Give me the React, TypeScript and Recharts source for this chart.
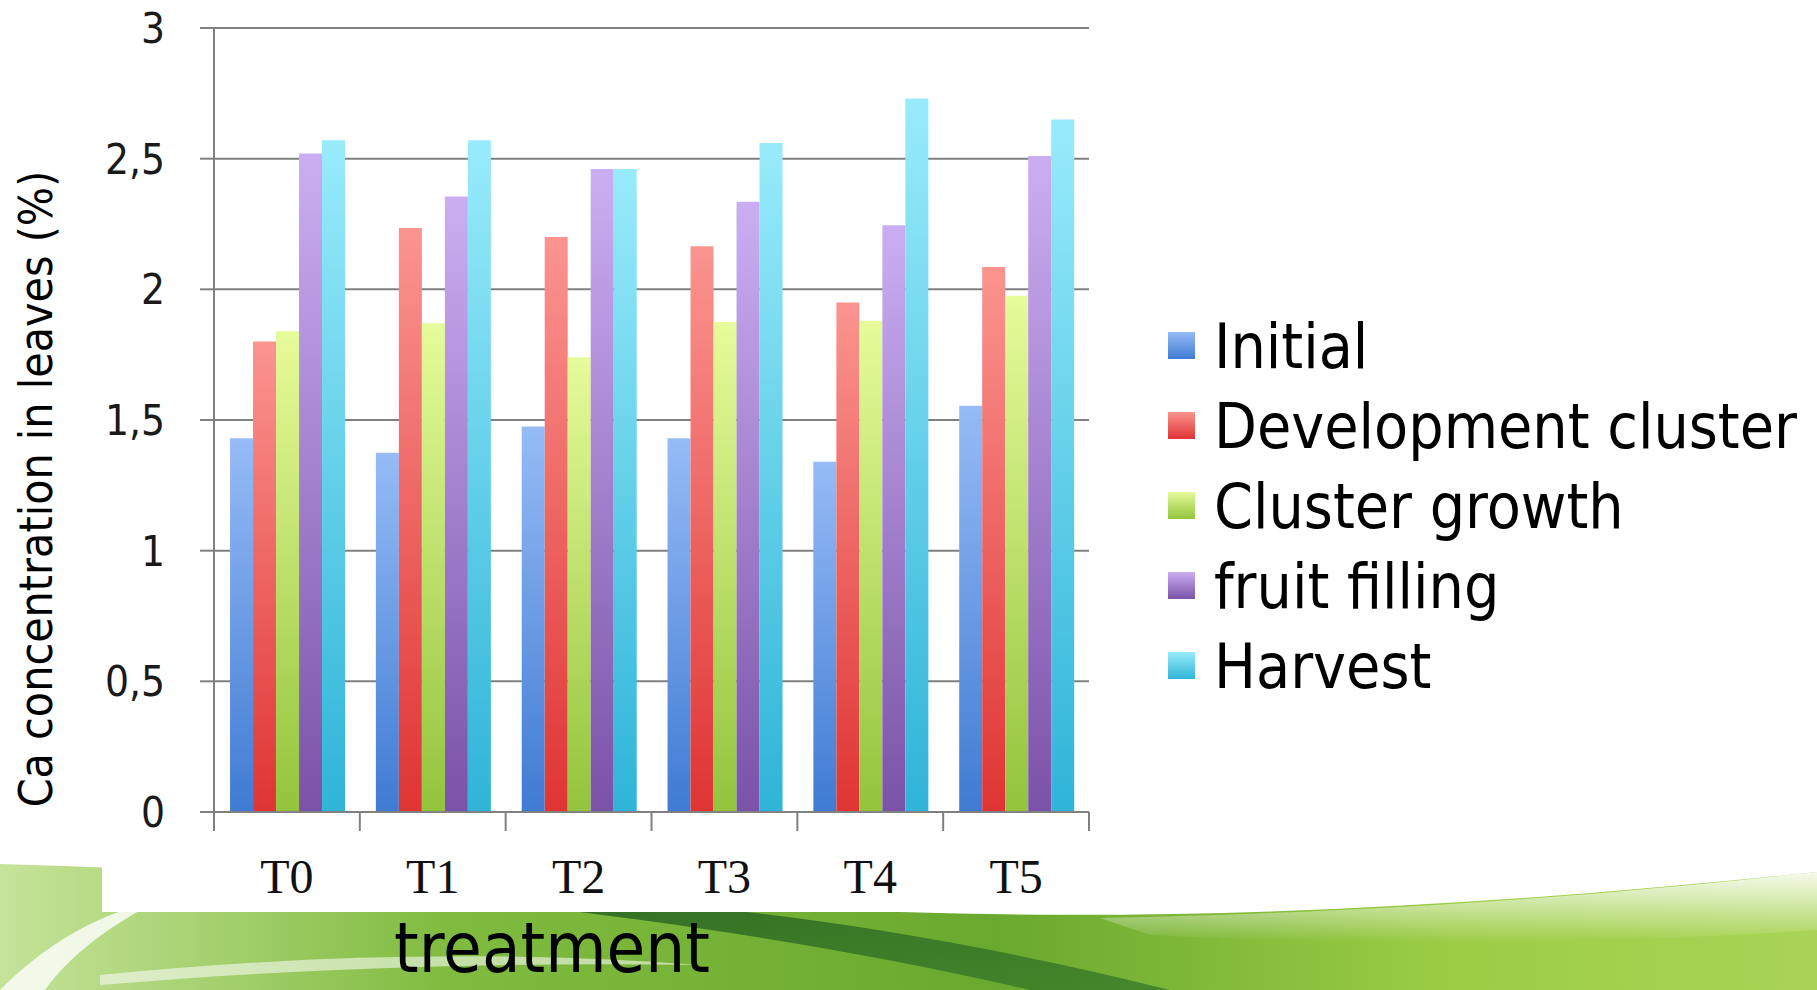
import React from "react";
import {
  BarChart,
  Bar,
  XAxis,
  YAxis,
  CartesianGrid,
  Legend,
} from "recharts";

// categories and series values
const categories = ["T0", "T1", "T2", "T3", "T4", "T5"];
const seriesNames = [
  "Initial",
  "Development cluster",
  "Cluster growth",
  "fruit filling",
  "Harvest",
];
const initial = [1.43, 1.375, 1.475, 1.43, 1.34, 1.555];
const developmentCluster = [1.8, 2.235, 2.2, 2.165, 1.95, 2.085];
const clusterGrowth = [1.84, 1.87, 1.74, 1.875, 1.88, 1.975];
const fruitFilling = [2.52, 2.355, 2.46, 2.335, 2.245, 2.51];
const harvest = [2.57, 2.57, 2.46, 2.56, 2.73, 2.65];
const yTicks = [0, 0.5, 1, 1.5, 2, 2.5, 3];

const keys = ["initial", "development", "growth", "fruit", "harvest"];
const colors = [
  { top: "#96bbf6", bottom: "#3f7bd3" },
  { top: "#fb948f", bottom: "#df3434" },
  { top: "#e6fb9a", bottom: "#93c43c" },
  { top: "#cbaef2", bottom: "#7a52a8" },
  { top: "#98ebfb", bottom: "#2fb4d8" },
];

const data = categories.map((name, i) => ({
  name,
  initial: initial[i],
  development: developmentCluster[i],
  growth: clusterGrowth[i],
  fruit: fruitFilling[i],
  harvest: harvest[i],
}));

const condensed = "'DejaVu Sans Condensed', 'DejaVu Sans', sans-serif";
const gray = "#808080";

// x ticks sit on the category boundaries, not the centres
const XTick = (props: any) => {
  const { x, y, payload, index } = props;
  const half = payload && payload.offset ? payload.offset : 72.9;
  const axisY = y - 19;
  return (
    <g>
      {index === 0 && (
        <line x1={x - half} x2={x - half} y1={axisY} y2={y} stroke={gray} strokeWidth={2} />
      )}
      <line x1={x + half} x2={x + half} y1={axisY} y2={y} stroke={gray} strokeWidth={2} />
      <text
        x={x}
        y={y + 62}
        textAnchor="middle"
        fontFamily="'Liberation Serif', 'Times New Roman', serif"
        fontSize={48}
        fill="#111"
      >
        {payload.value}
      </text>
    </g>
  );
};

const LegendBox = () => (
  <svg width={650} height={440}>
    <defs>
      {colors.map((c, i) => (
        <linearGradient key={i} id={`lg${i}`} x1="0" y1="0" x2="0" y2="1">
          <stop offset="0%" stopColor={c.top} />
          <stop offset="100%" stopColor={c.bottom} />
        </linearGradient>
      ))}
    </defs>
    {seriesNames.map((name, i) => (
      <g key={name}>
        <rect x={8} y={78 + i * 80 - 36} width={27} height={27} fill={`url(#lg${i})`} />
        <text
          x={54}
          y={78 + i * 80}
          fontFamily={condensed}
          fontSize={62}
          fill="#000"
        >
          {name}
        </text>
      </g>
    ))}
  </svg>
);

const Background = () => (
  <svg width={1817} height={990} style={{ position: "absolute", left: 0, top: 0 }}>
    <defs>
      <linearGradient id="swooshBase" x1="0" y1="0" x2="1" y2="0">
        <stop offset="0%" stopColor="#c6e39a" />
        <stop offset="25%" stopColor="#7fbb3e" />
        <stop offset="55%" stopColor="#6aa92f" />
        <stop offset="80%" stopColor="#9ccd45" />
        <stop offset="100%" stopColor="#a9d456" />
      </linearGradient>
      <linearGradient id="swooshFade" x1="0" y1="0" x2="0" y2="1">
        <stop offset="0%" stopColor="#ffffff" stopOpacity={0.9} />
        <stop offset="100%" stopColor="#ffffff" stopOpacity={0} />
      </linearGradient>
      <linearGradient id="darkBand" x1="0" y1="0" x2="1" y2="1">
        <stop offset="0%" stopColor="#2f6b22" stopOpacity={0.95} />
        <stop offset="100%" stopColor="#3d7f2a" stopOpacity={0.85} />
      </linearGradient>
    </defs>
    <rect x={0} y={0} width={1817} height={990} fill="#ffffff" />
    <path
      d="M0,864 C300,872 600,900 900,912 C1200,922 1500,905 1817,872 L1817,990 L0,990 Z"
      fill="url(#swooshBase)"
    />
    <path
      d="M1100,918 C1400,912 1600,895 1817,872 L1817,930 C1600,945 1350,945 1150,935 Z"
      fill="url(#swooshFade)"
    />
    <path
      d="M520,905 C700,925 880,955 1030,990 L1170,990 C990,945 820,918 680,905 Z"
      fill="url(#darkBand)"
    />
    <path
      d="M0,990 C40,950 90,915 160,900 C110,925 70,955 45,990 Z"
      fill="#ffffff"
      opacity={0.8}
    />
    <path
      d="M100,975 C300,955 500,950 700,965 C500,962 300,968 100,985 Z"
      fill="#ffffff"
      opacity={0.55}
    />
    <rect x={102} y={0} width={1000} height={912} fill="#ffffff" />
  </svg>
);

export default function App() {
  return (
    <div
      style={{
        position: "absolute",
        left: 0,
        top: 0,
        width: 1817,
        height: 990,
        overflow: "hidden",
        background: "#fff",
      }}
    >
      <Background />
      <div style={{ position: "absolute", left: 0, top: 0 }}>
        <BarChart
          width={1817}
          height={990}
          data={data}
          margin={{ top: 28, right: 728, left: 94, bottom: 78 }}
          barCategoryGap="11%"
          barGap={0}
        >
          <defs>
            {colors.map((c, i) => (
              <linearGradient key={i} id={`bg${i}`} x1="0" y1="0" x2="0" y2="1">
                <stop offset="0%" stopColor={c.top} />
                <stop offset="100%" stopColor={c.bottom} />
              </linearGradient>
            ))}
          </defs>
          <CartesianGrid vertical={false} stroke={gray} strokeWidth={2} />
          <XAxis
            dataKey="name"
            height={100}
            stroke={gray}
            strokeWidth={2}
            tickLine={false}
            tickSize={19}
            tickMargin={0}
            interval={0}
            tick={<XTick />}
            label={{
              content: () => (
                <text
                  x={552}
                  y={972}
                  textAnchor="middle"
                  fontFamily={condensed}
                  fontSize={70}
                  fill="#000"
                >
                  treatment
                </text>
              ),
            }}
          />
          <YAxis
            width={120}
            domain={[0, 3]}
            ticks={yTicks}
            interval={0}
            stroke={gray}
            strokeWidth={2}
            tickSize={14}
            tickMargin={35}
            tickFormatter={(v: number) => String(v).replace(".", ",")}
            tick={{ fontFamily: condensed, fontSize: 42, fill: "#1a1a1a" }}
            label={{
              content: () => (
                <text
                  x={52}
                  y={489}
                  transform="rotate(-90 52 489)"
                  textAnchor="middle"
                  fontFamily={condensed}
                  fontSize={46}
                  fill="#000"
                >
                  Ca concentration in leaves (%)
                </text>
              ),
            }}
          />
          <Legend
            layout="horizontal"
            verticalAlign="middle"
            align="center"
            wrapperStyle={{ left: 1160, top: 290, width: 650 }}
            content={() => <LegendBox />}
          />
          {keys.map((k, i) => (
            <Bar
              key={k}
              dataKey={k}
              name={seriesNames[i]}
              fill={`url(#bg${i})`}
              isAnimationActive={false}
            />
          ))}
        </BarChart>
      </div>
    </div>
  );
}
